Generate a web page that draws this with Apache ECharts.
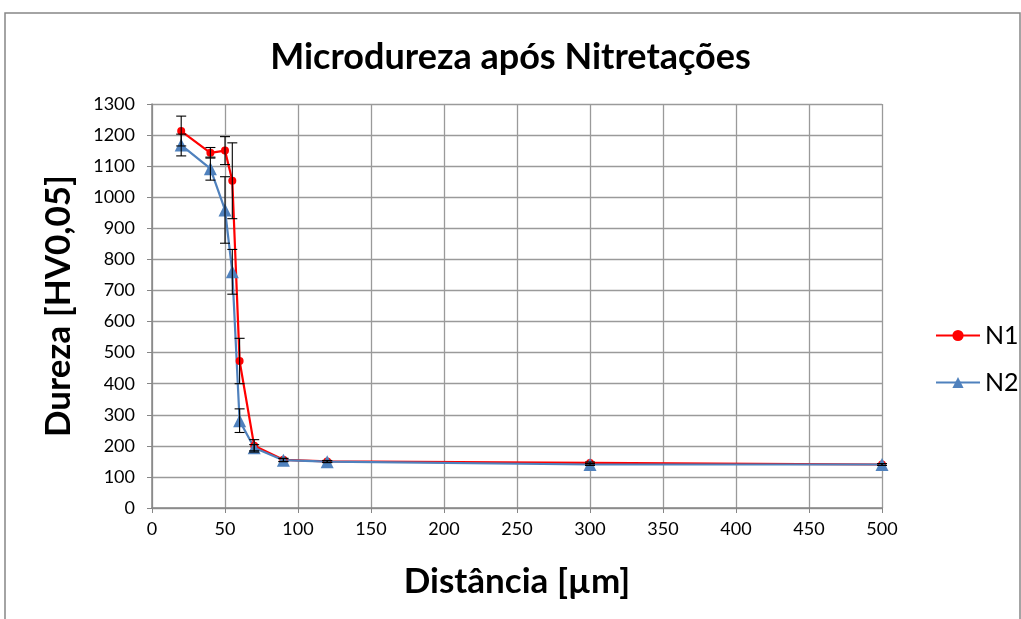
<!DOCTYPE html>
<html>
<head>
<meta charset="utf-8">
<script src="https://cdn.jsdelivr.net/npm/echarts@6/dist/echarts.min.js"></script>
<style>html,body{margin:0;padding:0;background:#fff}#c{width:1021px;height:619px}</style>
</head>
<body>
<div id="c"></div>
<script>
const distances = [20, 40, 50, 55, 60, 70, 90, 120, 300, 500];
const n1Values = [1213, 1143, 1150, 1053, 473, 200, 155, 150, 145, 140];
const n1Errors = [48, 17, 45, 122, 73, 20, 5, 3, 3, 3];
const n2Values = [1168, 1092, 959, 760, 281, 194, 154, 149, 140, 140];
const n2Errors = [35, 37, 107, 72, 38, 10, 5, 3, 3, 3];
const xTicks = [0, 50, 100, 150, 200, 250, 300, 350, 400, 450, 500];
const yTicks = [0, 100, 200, 300, 400, 500, 600, 700, 800, 900, 1000, 1100, 1200, 1300];

const FONT = 'Lato, "Open Sans", sans-serif';
const chart = echarts.init(document.getElementById('c'));

function pts(vals) { return distances.map((d, i) => [d, vals[i]]); }
function errPts(vals, errs) { return distances.map((d, i) => [d, vals[i], errs[i]]); }

function errRender(params, api) {
  const x = api.value(0), y = api.value(1), e = api.value(2);
  const t = api.coord([x, y + e]);
  const b = api.coord([x, y - e]);
  const w = 5;
  const st = { stroke: '#000', lineWidth: 1.1 };
  return {
    type: 'group',
    children: [
      { type: 'line', shape: { x1: t[0], y1: t[1], x2: b[0], y2: b[1] }, style: st },
      { type: 'line', shape: { x1: t[0] - w, y1: t[1], x2: t[0] + w, y2: t[1] }, style: st },
      { type: 'line', shape: { x1: b[0] - w, y1: b[1], x2: b[0] + w, y2: b[1] }, style: st }
    ]
  };
}

chart.setOption({
  animation: false,
  textStyle: { fontFamily: FONT },
  title: {
    text: 'Microdureza após Nitretações',
    left: 'center', top: 34,
    textStyle: { fontFamily: FONT, fontSize: 36, fontWeight: 'bold', color: '#000' }
  },
  graphic: [{
    type: 'rect', shape: { x: 5, y: 13, width: 1015, height: 620 },
    style: { fill: 'none', stroke: '#868686', lineWidth: 1.5 }, silent: true
  }],
  grid: { left: 152, right: 139, top: 104, bottom: 111, containLabel: false },
  legend: {
    orient: 'vertical', left: 930, top: 318, itemGap: 22,
    itemWidth: 44, itemHeight: 14,
    textStyle: { fontFamily: FONT, fontSize: 25, color: '#000' },
    data: ['N1', 'N2']
  },
  xAxis: {
    type: 'value', min: 0, max: 500, interval: 50,
    name: 'Distância [µm]', nameLocation: 'middle', nameGap: 56,
    nameTextStyle: { fontFamily: FONT, fontSize: 35, fontWeight: 'bold', color: '#000' },
    axisLine: { lineStyle: { color: '#868686', width: 1.5 } },
    axisTick: { show: true, length: 5, lineStyle: { color: '#868686' } },
    axisLabel: { fontSize: 18, color: '#000', margin: 12, fontFamily: FONT,
      customValues: xTicks, formatter: v => String(v) },
    splitLine: { show: true, lineStyle: { color: '#9a9a9a', width: 1.3 } }
  },
  yAxis: {
    type: 'value', min: 0, max: 1300, interval: 100,
    name: 'Dureza [HV0,05]', nameLocation: 'middle', nameGap: 76,
    nameTextStyle: { fontFamily: FONT, fontSize: 35, fontWeight: 'bold', color: '#000' },
    axisLine: { show: true, lineStyle: { color: '#868686', width: 1.5 } },
    axisTick: { show: true, length: 5, lineStyle: { color: '#868686' } },
    axisLabel: { fontSize: 18, color: '#000', margin: 17, fontFamily: FONT,
      customValues: yTicks, formatter: v => String(v) },
    splitLine: { show: true, lineStyle: { color: '#9a9a9a', width: 1.3 } }
  },
  series: [
    {
      name: 'N1', type: 'line', data: pts(n1Values),
      symbol: 'circle', symbolSize: 8,
      lineStyle: { color: '#ff0000', width: 2.2 },
      itemStyle: { color: '#ff0000' }, z: 3
    },
    {
      name: 'N2', type: 'line', data: pts(n2Values),
      symbol: 'triangle', symbolSize: 13,
      lineStyle: { color: '#4f81bd', width: 2.2 },
      itemStyle: { color: '#4f81bd' }, z: 3
    },
    {
      name: 'errN1', type: 'custom', renderItem: errRender,
      data: errPts(n1Values, n1Errors), encode: { x: 0, y: 1 }, z: 4
    },
    {
      name: 'errN2', type: 'custom', renderItem: errRender,
      data: errPts(n2Values, n2Errors), encode: { x: 0, y: 1 }, z: 4
    }
  ]
});
</script>
</body>
</html>
